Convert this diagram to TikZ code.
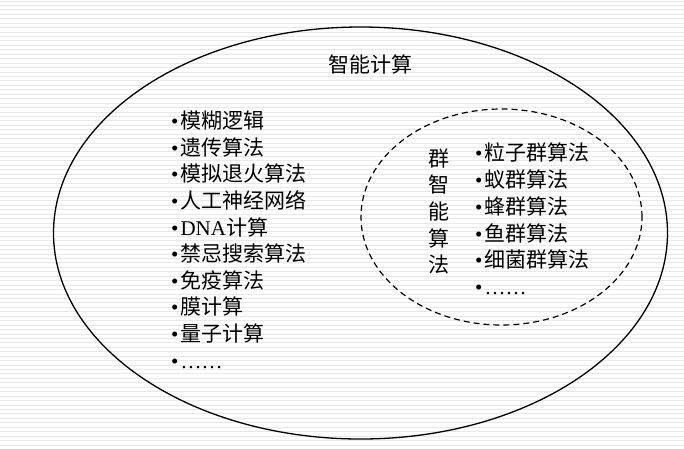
\documentclass[tikz,border=0pt]{standalone}
\usepackage{fontspec}
\setmainfont{Liberation Serif}
\newfontfamily\cjk{Noto Sans CJK SC}
\usetikzlibrary{shapes.geometric}

\newcommand{\bul}{•\kern2pt}

\tikzset{
	item/.style={anchor=base west, inner sep=0pt, font=\fontsize{21}{25}\selectfont},
	stripe/.style={black!9, line width=1pt},
}

\begin{document}
\begin{tikzpicture}[x=1pt,y=-1pt]
	\useasboundingbox (0,0) rectangle (684,448);
	% background stripes
	\foreach \i in {0,...,100}
		\draw[stripe] (0,4.44*\i+1) -- (684,4.44*\i+1);

	\coordinate (c0) at (360.5,233);
	\coordinate (c1) at (501.5,217);
	\coordinate (t0) at (370,64);
	\coordinate (v0) at (439,211.5);

	\node (outer) at (c0) [draw, ellipse, line width=1.3pt, minimum width=614pt, minimum height=412pt, inner sep=0pt] {};
	\node (swarm) at (c1) [draw, ellipse, line width=1.2pt, dash pattern=on 6pt off 4pt, minimum width=281pt, minimum height=216pt, inner sep=0pt] {};

	\node (title) at (t0) [inner sep=0pt, font=\fontsize{21}{25}\selectfont\cjk] {智能计算};
	\node (vert) at (v0) [inner sep=0pt, align=center, font=\fontsize{21}{26.7}\selectfont\cjk] {群\\智\\能\\算\\法};

	% left list
	\node (a1) at (171,128.6) [item] {\bul{\cjk 模糊逻辑}};
	\node (a2) at (171,155.2) [item] {\bul{\cjk 遗传算法}};
	\node (a3) at (171,181.8) [item] {\bul{\cjk 模拟退火算法}};
	\node (a4) at (171,208.4) [item] {\bul{\cjk 人工神经网络}};
	\node (a5) at (171,235.0) [item] {\bul DNA{\cjk 计算}};
	\node (a6) at (171,261.6) [item] {\bul{\cjk 禁忌搜索算法}};
	\node (a7) at (171,288.2) [item] {\bul{\cjk 免疫算法}};
	\node (a8) at (171,314.8) [item] {\bul{\cjk 膜计算}};
	\node (a9) at (171,341.4) [item] {\bul{\cjk 量子计算}};
	\node (a10) at (171,368.0) [item] {\bul……};

	% right list
	\node (b1) at (475,160.6) [item] {\bul{\cjk 粒子群算法}};
	\node (b2) at (475,187.4) [item] {\bul{\cjk 蚁群算法}};
	\node (b3) at (475,214.2) [item] {\bul{\cjk 蜂群算法}};
	\node (b4) at (475,241.0) [item] {\bul{\cjk 鱼群算法}};
	\node (b5) at (475,267.8) [item] {\bul{\cjk 细菌群算法}};
	\node (b6) at (475,294.6) [item] {\bul……};
\end{tikzpicture}
\end{document}
